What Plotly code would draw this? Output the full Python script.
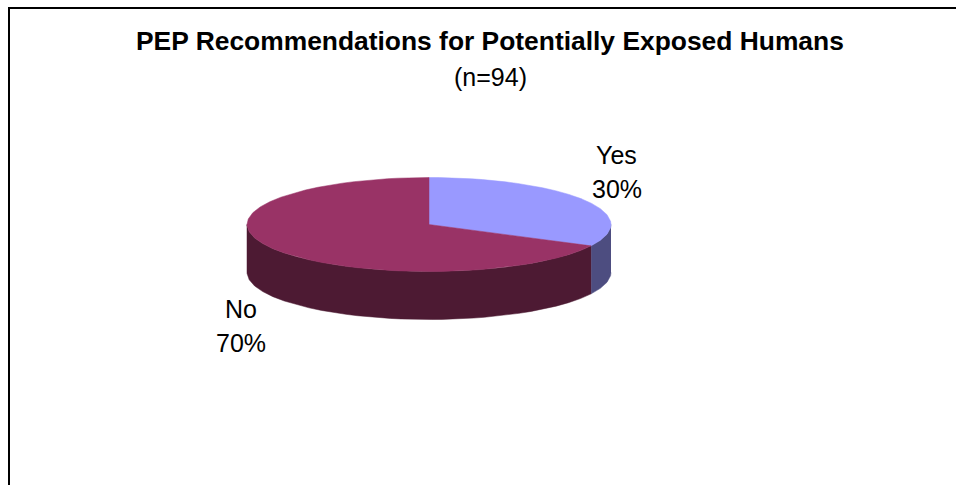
import numpy as np
import plotly.graph_objects as go

# Survey shares
categories = ["Yes", "No"]
shares = [30, 70]
title_text = "PEP Recommendations for Potentially Exposed Humans"
subtitle_text = "(n=94)"
top_colors = ["#9999FF", "#993366"]
side_colors = ["#4D4D80", "#4D1A33"]

# Pixel-space geometry of the tilted disc
CX, CY, RX, RY, DEPTH = 429.0, 224.5, 182.0, 47.0, 48.0
TILT = 0.637  # angular foreshortening of the oblique view
FACET = 2 * np.pi / 72  # the rim is drawn as a coarse polygon


def rim(a0, a1):
    """Rim points for a slice spanning a0..a1 (clockwise from 12 o'clock on the flat pie)."""
    n = max(int((a1 - a0) / FACET), 1) + 1
    quarter_turns = np.pi / 2 * np.arange(5)
    inside = quarter_turns[(quarter_turns > a0) & (quarter_turns < a1)]
    a = np.unique(np.r_[np.linspace(a0, a1, n), inside])
    t = np.unwrap(np.arctan2(TILT * np.sin(a), np.cos(a)))
    return CX + RX * np.sin(t), CY - RY * np.cos(t)


fig = go.Figure()


def polygon(x, y, color):
    fig.add_trace(go.Scatter(
        x=x, y=y, mode="lines", fill="toself", fillcolor=color,
        line=dict(color=color, width=0.5), hoverinfo="skip", showlegend=False,
    ))


edges = 2 * np.pi * np.cumsum([0] + shares) / sum(shares)

# Outer walls: only the part of the rim facing the viewer (lower half) is visible
for i in range(len(shares)):
    x, y = rim(edges[i], edges[i + 1])
    front = y >= CY - 1e-6
    if front.any():
        fx, fy = x[front], y[front]
        polygon(np.r_[fx, fx[::-1]], np.r_[fy, fy[::-1] + DEPTH], side_colors[i])

# Top faces
for i in range(len(shares)):
    x, y = rim(edges[i], edges[i + 1])
    polygon(np.r_[CX, x, CX], np.r_[CY, y, CY], top_colors[i])

# Chart frame: left and top rules only
fig.add_shape(type="line", x0=9, x1=9, y0=7, y1=485, line=dict(color="black", width=2))
fig.add_shape(type="line", x0=8, x1=956, y0=8, y1=8, line=dict(color="black", width=2))

FONT = "Liberation Sans, Arial, sans-serif"
fig.add_annotation(x=490, y=41, text=f"<b>{title_text}</b>", showarrow=False,
                   font=dict(family=FONT, size=26.4, color="black"))
fig.add_annotation(x=490, y=77, text=subtitle_text, showarrow=False,
                   font=dict(family=FONT, size=25, color="black"))

# Each slice label is two separately placed lines: name, then percentage
label_pos = [(616.5, 155, 189), (240.5, 309, 343)]
for name, share, (lx, y1, y2) in zip(categories, shares, label_pos):
    for line, ly in ((name, y1), (f"{share}%", y2)):
        fig.add_annotation(x=lx, y=ly, text=line, showarrow=False,
                           font=dict(family=FONT, size=25, color="black"))

fig.update_layout(
    width=956, height=485, margin=dict(l=0, r=0, t=0, b=0),
    paper_bgcolor="white", plot_bgcolor="white", showlegend=False,
    xaxis=dict(range=[0, 956], visible=False, fixedrange=True),
    yaxis=dict(range=[485, 0], visible=False, fixedrange=True),
)
fig.write_html("out.html", config=dict(displayModeBar=False))
